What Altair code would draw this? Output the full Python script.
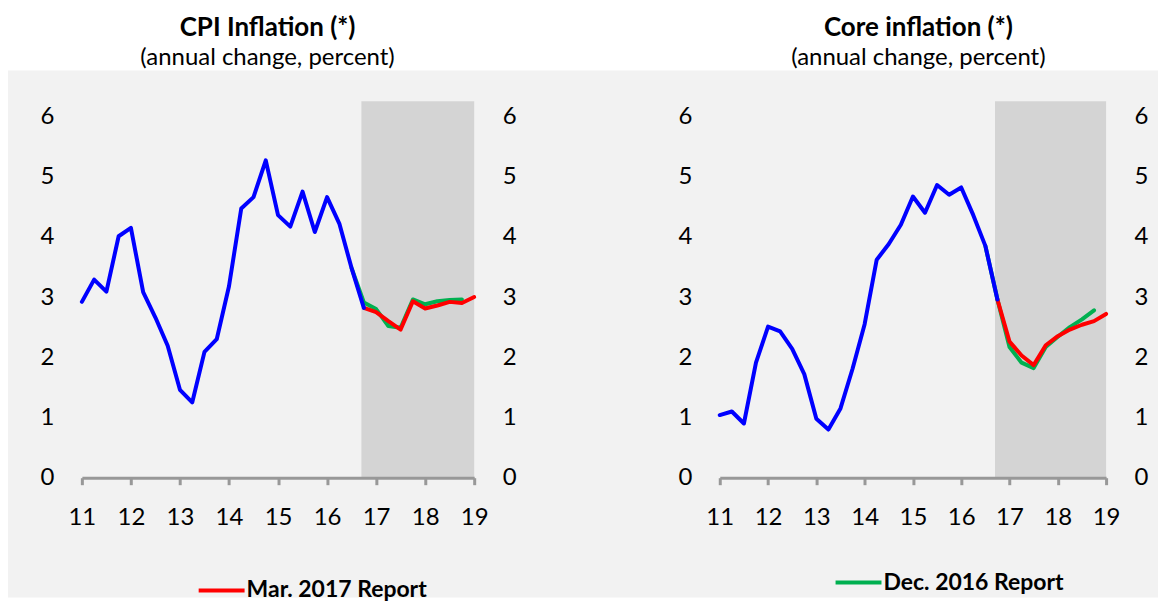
import altair as alt
import pandas as pd

# ---------------- data ----------------
years = list(range(11, 20))                 # x tick labels
quarter_start_actual = 11.0                 # 2011Q1
quarter_start_dec16 = 16.5                  # 2016Q3
quarter_start_mar17 = 16.75                 # 2016Q4
forecast_start = 16.7
forecast_end = 19.0

cpi_actual = [2.92, 3.29, 3.09, 4.01, 4.15, 3.08, 2.66, 2.19, 1.46, 1.25, 2.09, 2.30,
              3.18, 4.47, 4.66, 5.27, 4.36, 4.17, 4.75, 4.08, 4.66, 4.22, 3.48, 2.82]
cpi_dec16 = [3.48, 2.91, 2.80, 2.52, 2.49, 2.96, 2.88, 2.93, 2.95, 2.96]
cpi_mar17 = [2.82, 2.75, 2.60, 2.46, 2.93, 2.81, 2.86, 2.92, 2.90, 3.00]

core_actual = [1.04, 1.10, 0.90, 1.91, 2.51, 2.43, 2.14, 1.72, 0.98, 0.80, 1.15, 1.81,
               2.55, 3.62, 3.88, 4.20, 4.67, 4.40, 4.86, 4.70, 4.82, 4.36, 3.85, 2.96]
core_dec16 = [3.85, 2.96, 2.17, 1.91, 1.82, 2.17, 2.34, 2.50, 2.63, 2.78]
core_mar17 = [2.96, 2.26, 2.03, 1.87, 2.20, 2.35, 2.46, 2.54, 2.60, 2.72]

series_names = ["Actual", "Dec. 2016 Report", "Mar. 2017 Report"]
series_colors = ["#0000ff", "#00b050", "#ff0000"]


def frame(start, values, name):
    return pd.DataFrame({"t": [start + i / 4 for i in range(len(values))],
                         "v": values, "series": name})


# ---------------- styling ----------------
FONT = "Lato"
H = 377
YMAX = 6.25
W_L, W_R = 393, 387
AXIS_GRAY = "#989898"

cscale = alt.Scale(domain=series_names, range=series_colors)


def make_panel(act, dec, mar, width, title, subtitle, title_x, legend_series,
               legend_x, legend_y, with_bg):
    xscale = alt.Scale(domain=[11, 19], nice=False, zero=False)
    xaxis = alt.Axis(values=years, format="d", title=None, grid=False,
                     domain=True, domainColor=AXIS_GRAY, domainWidth=3,
                     ticks=True, tickColor=AXIS_GRAY, tickWidth=3, tickSize=7,
                     labelFont=FONT, labelFontSize=24, labelColor="black",
                     labelPadding=21, labelFlush=False, labelOverlap=False, zindex=1)
    yscale = alt.Scale(domain=[0, YMAX], nice=False, zero=True)

    def yaxis(orient):
        return alt.Axis(orient=orient, values=list(range(0, 7)), format="d", title=None,
                        grid=False, domain=False, ticks=False,
                        labelFont=FONT, labelFontSize=24, labelColor="black",
                        labelPadding=28, labelFlush=False, labelOverlap=False, zindex=1)

    legend = alt.Legend(orient="none", legendX=legend_x, legendY=legend_y,
                        values=[legend_series], title=None, symbolType="stroke",
                        symbolStrokeWidth=4, symbolSize=2116, labelFont=FONT,
                        labelFontWeight="bold", labelFontSize=23, labelColor="black",
                        labelOffset=0, labelLimit=400, padding=0)

    one = alt.Data(values=[{}])
    layers = []
    if with_bg:
        layers.append(alt.Chart(one).mark_rect(color="white").encode(
            x=alt.value(-74), x2=alt.value(1078), y=alt.value(-93), y2=alt.value(-31)))
        layers.append(alt.Chart(one).mark_rect(color="#f2f2f2").encode(
            x=alt.value(-74), x2=alt.value(1078), y=alt.value(-31), y2=alt.value(497)))

    shade = pd.DataFrame({"x0": [forecast_start], "x1": [forecast_end]})
    layers.append(alt.Chart(shade).mark_rect(color="#d4d4d4").encode(
        x=alt.X("x0:Q", scale=xscale, axis=xaxis), x2="x1:Q",
        y=alt.value(0), y2=alt.value(H)))

    line = dict(strokeWidth=4, strokeCap="round", strokeJoin="round")
    layers.append(alt.Chart(dec).mark_line(**line).encode(
        x=alt.X("t:Q", scale=xscale, axis=xaxis),
        y=alt.Y("v:Q", scale=yscale, axis=None),
        color=alt.Color("series:N", scale=cscale, legend=legend)))
    layers.append(alt.Chart(mar).mark_line(**line).encode(
        x=alt.X("t:Q", scale=xscale, axis=xaxis),
        y=alt.Y("v:Q", scale=yscale, axis=yaxis("right")),
        color=alt.Color("series:N", scale=cscale, legend=legend)))
    layers.append(alt.Chart(act).mark_line(**line).encode(
        x=alt.X("t:Q", scale=xscale, axis=xaxis),
        y=alt.Y("v:Q", scale=yscale, axis=yaxis("left")),
        color=alt.Color("series:N", scale=cscale, legend=legend)))

    layers.append(alt.Chart(one).mark_text(
        text=title, font=FONT, fontWeight="bold", fontSize=26, color="black",
        align="center", baseline="alphabetic").encode(
        x=alt.value(title_x), y=alt.value(-65)))
    layers.append(alt.Chart(one).mark_text(
        text=subtitle, font=FONT, fontSize=24, color="black",
        align="center", baseline="alphabetic").encode(
        x=alt.value(title_x), y=alt.value(-36)))

    return alt.layer(*layers).resolve_scale(y="independent").properties(
        width=width, height=H)


left = make_panel(frame(quarter_start_actual, cpi_actual, "Actual"),
                  frame(quarter_start_dec16, cpi_dec16, "Dec. 2016 Report"),
                  frame(quarter_start_mar17, cpi_mar17, "Mar. 2017 Report"),
                  W_L, "CPI Inflation (*)", "(annual change, percent)", 186,
                  "Mar. 2017 Report", 115, 465, True)
right = make_panel(frame(quarter_start_actual, core_actual, "Actual"),
                   frame(quarter_start_dec16, core_dec16, "Dec. 2016 Report"),
                   frame(quarter_start_mar17, core_mar17, "Mar. 2017 Report"),
                   W_R, "Core inflation (*)", "(annual change, percent)", 199,
                   "Dec. 2016 Report", 114, 457, False)

chart = alt.hconcat(left, right, spacing=246, bounds="flush").resolve_legend(
    color="independent").properties(padding=0).configure_view(strokeWidth=0)

chart.save("out.html", embed_options={"renderer": "svg", "actions": False})
